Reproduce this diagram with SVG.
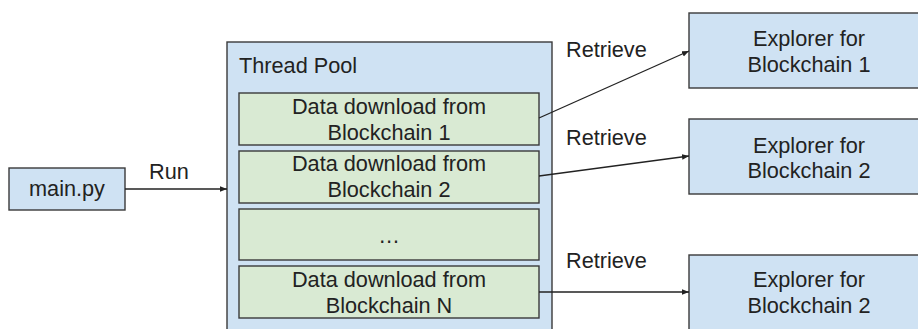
<svg xmlns="http://www.w3.org/2000/svg" width="918" height="329" viewBox="0 0 918 329">
<style>
text{font-family:"Liberation Sans",Arial,sans-serif;font-size:21.7px;fill:#222}
.c{text-anchor:middle}
.blue{fill:#cfe2f3;stroke:#3a3a3a;stroke-width:1.4}
.green{fill:#d9ead3;stroke:#3a3a3a;stroke-width:1.4}
.edge{stroke:#222;stroke-width:1.3;fill:none;marker-end:url(#ah)}
</style>
<defs>
<marker id="ah" viewBox="0 0 10 10" refX="10" refY="5" markerWidth="7" markerHeight="7" markerUnits="userSpaceOnUse" orient="auto">
<path d="M0,1 L10,5 L0,9 z" fill="#222"/>
</marker>
</defs>
<rect width="918" height="329" fill="#fff"/>
<g id="main">
<rect class="blue" x="9" y="168" width="116" height="42"/>
<text class="c" x="67" y="196">main.py</text>
</g>
<g id="pool">
<rect class="blue" x="227" y="42" width="325" height="300"/>
<text x="239" y="73">Thread Pool</text>
</g>
<g id="task1">
<rect class="green" x="239" y="93" width="300" height="52"/>
<text class="c" x="389" y="114">Data download from</text>
<text class="c" x="389" y="140">Blockchain 1</text>
</g>
<g id="task2">
<rect class="green" x="239" y="151" width="300" height="52"/>
<text class="c" x="389" y="171">Data download from</text>
<text class="c" x="389" y="197">Blockchain 2</text>
</g>
<g id="task3">
<rect class="green" x="239" y="209" width="300" height="51"/>
<text class="c" x="389" y="243">…</text>
</g>
<g id="taskN">
<rect class="green" x="239" y="266" width="300" height="52"/>
<text class="c" x="389" y="287">Data download from</text>
<text class="c" x="389" y="313">Blockchain N</text>
</g>
<g id="explorer1">
<rect class="blue" x="689" y="13" width="240" height="75"/>
<text class="c" x="809" y="46">Explorer for</text>
<text class="c" x="809" y="72">Blockchain 1</text>
</g>
<g id="explorer2">
<rect class="blue" x="689" y="119" width="240" height="75"/>
<text class="c" x="809" y="153">Explorer for</text>
<text class="c" x="809" y="178">Blockchain 2</text>
</g>
<g id="explorer3">
<rect class="blue" x="689" y="255" width="240" height="90"/>
<text class="c" x="809" y="287">Explorer for</text>
<text class="c" x="809" y="313">Blockchain 2</text>
</g>
<g id="connectors">
<line class="edge" x1="125" y1="189" x2="227" y2="189"/>
<text x="149" y="179">Run</text>
<line class="edge" x1="539" y1="118" x2="689" y2="51"/>
<text x="566" y="57">Retrieve</text>
<line class="edge" x1="539" y1="176" x2="689" y2="156"/>
<text x="566" y="145">Retrieve</text>
<line class="edge" x1="539" y1="292" x2="689" y2="292"/>
<text x="566" y="268">Retrieve</text>
</g>
</svg>
